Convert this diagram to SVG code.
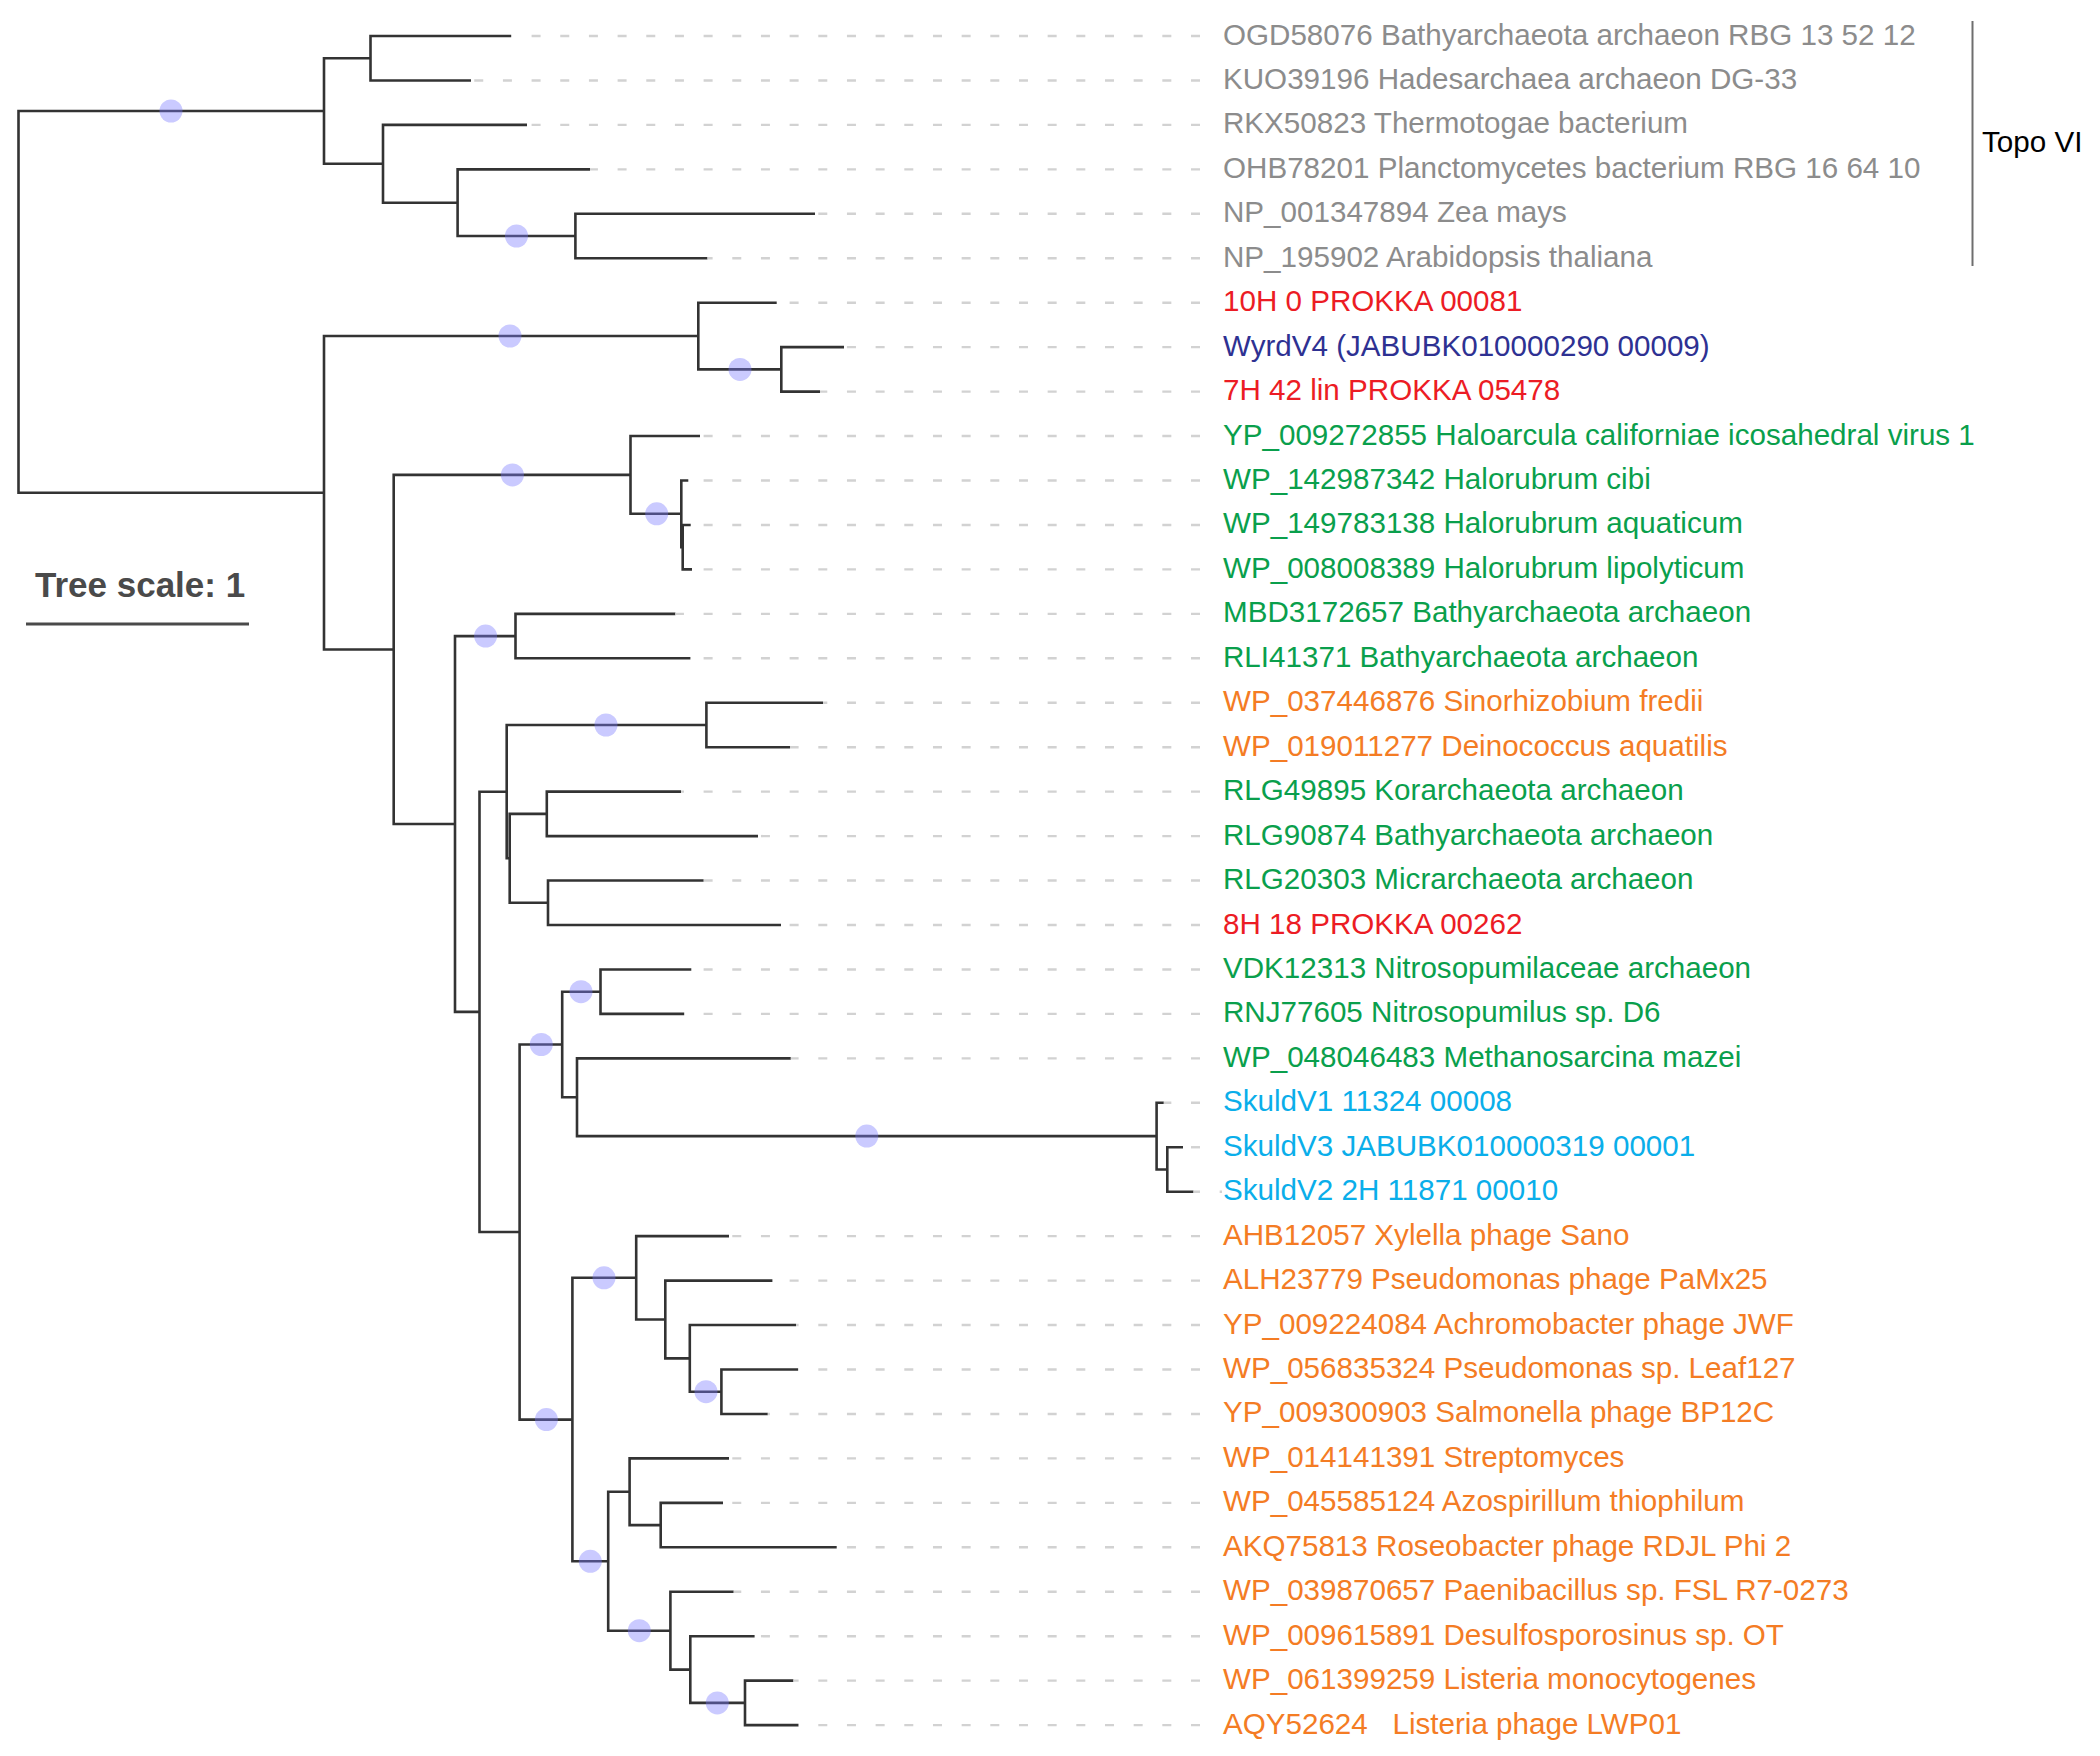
<svg xmlns="http://www.w3.org/2000/svg" width="2100" height="1756" viewBox="0 0 2100 1756">
<style>
.br{fill:none;stroke:#333;stroke-width:2.6;stroke-linejoin:miter;stroke-linecap:butt}
.ds{stroke:#d2d2d2;stroke-width:2.4;stroke-dasharray:9 19.67}
.sp{fill:#7b7bff;fill-opacity:0.4}
.lb{font-family:"Liberation Sans",Arial,sans-serif;font-size:29.6px;white-space:pre}
.gy{fill:#8c8c8c}.rd{fill:#ec1c24}.nv{fill:#2e3192}.gn{fill:#0a9f4c}.or{fill:#f47c24}.bl{fill:#0aaeea}
</style>
<rect width="2100" height="1756" fill="#fff"/>
<g id="connectors">
<g id="branches">
<path class="br" d="M324 111 H18.5 V492.8 H324"/>
<path class="br" d="M370.5 58.2 H324 V163.8 H383"/>
<path class="br" d="M511 36 H370.5 V80.45 H471"/>
<path class="br" d="M527 124.9 H383 V202.7 H457.6"/>
<path class="br" d="M590 169.35 H457.6 V236 H575.4"/>
<path class="br" d="M815 213.8 H575.4 V258.25 H707.5"/>
<path class="br" d="M698.3 336 H324 V649.5 H393.7"/>
<path class="br" d="M776.7 302.7 H698.3 V369.4 H781.3"/>
<path class="br" d="M844 347.15 H781.3 V391.6 H820"/>
<path class="br" d="M630.5 474.9 H393.7 V824 H455"/>
<path class="br" d="M700 436.05 H630.5 V513.8 H681.3"/>
<path class="br" d="M688.3 480.5 H681.3 V547.2 H682.7"/>
<path class="br" d="M690.7 524.95 H682.7 V569.4 H692"/>
<path class="br" d="M515.5 636.1 H455 V1011.9 H479.5"/>
<path class="br" d="M675.4 613.85 H515.5 V658.3 H690.4"/>
<path class="br" d="M506.7 791.7 H479.5 V1232 H519.6"/>
<path class="br" d="M706.4 725 H506.7 V858.3 H509.7"/>
<path class="br" d="M823 702.75 H706.4 V747.2 H790"/>
<path class="br" d="M546.8 813.9 H509.7 V902.8 H548"/>
<path class="br" d="M681 791.65 H546.8 V836.1 H758"/>
<path class="br" d="M703.7 880.55 H548 V925 H781"/>
<path class="br" d="M562.2 1044.5 H519.6 V1419.6 H572.4"/>
<path class="br" d="M600.5 991.7 H562.2 V1097.2 H577"/>
<path class="br" d="M691.3 969.45 H600.5 V1013.9 H684.2"/>
<path class="br" d="M790.8 1058.35 H577 V1136.1 H1156.6"/>
<path class="br" d="M1163.8 1102.8 H1156.6 V1169.5 H1167.3"/>
<path class="br" d="M1183 1147.25 H1167.3 V1191.7 H1193.5"/>
<path class="br" d="M636.2 1277.8 H572.4 V1561.3 H608.2"/>
<path class="br" d="M729 1236.15 H636.2 V1319.5 H665.3"/>
<path class="br" d="M772.4 1280.6 H665.3 V1358.4 H689.8"/>
<path class="br" d="M796 1325.05 H689.8 V1391.7 H721.4"/>
<path class="br" d="M798 1369.5 H721.4 V1413.95 H767.8"/>
<path class="br" d="M629.6 1491.8 H608.2 V1630.7 H670.4"/>
<path class="br" d="M729 1458.4 H629.6 V1525.1 H660.7"/>
<path class="br" d="M723 1502.85 H660.7 V1547.3 H836.7"/>
<path class="br" d="M733.7 1591.75 H670.4 V1669.6 H690.3"/>
<path class="br" d="M754.6 1636.2 H690.3 V1702.9 H745"/>
<path class="br" d="M793.4 1680.65 H745 V1725.1 H798.5"/>
</g>
<g id="leader-lines">
<line class="ds" x1="511" y1="36" x2="1201" y2="36" stroke-dashoffset="495.47"/>
<line class="ds" x1="471" y1="80.45" x2="1201" y2="80.45" stroke-dashoffset="455.47"/>
<line class="ds" x1="527" y1="124.9" x2="1201" y2="124.9" stroke-dashoffset="511.47"/>
<line class="ds" x1="590" y1="169.35" x2="1201" y2="169.35" stroke-dashoffset="574.47"/>
<line class="ds" x1="815" y1="213.8" x2="1201" y2="213.8" stroke-dashoffset="799.47"/>
<line class="ds" x1="707.5" y1="258.25" x2="1201" y2="258.25" stroke-dashoffset="691.97"/>
<line class="ds" x1="776.7" y1="302.7" x2="1201" y2="302.7" stroke-dashoffset="761.17"/>
<line class="ds" x1="844" y1="347.15" x2="1201" y2="347.15" stroke-dashoffset="828.47"/>
<line class="ds" x1="820" y1="391.6" x2="1201" y2="391.6" stroke-dashoffset="804.47"/>
<line class="ds" x1="700" y1="436.05" x2="1201" y2="436.05" stroke-dashoffset="684.47"/>
<line class="ds" x1="688.3" y1="480.5" x2="1201" y2="480.5" stroke-dashoffset="672.77"/>
<line class="ds" x1="690.7" y1="524.95" x2="1201" y2="524.95" stroke-dashoffset="675.17"/>
<line class="ds" x1="692" y1="569.4" x2="1201" y2="569.4" stroke-dashoffset="676.47"/>
<line class="ds" x1="675.4" y1="613.85" x2="1201" y2="613.85" stroke-dashoffset="659.87"/>
<line class="ds" x1="690.4" y1="658.3" x2="1201" y2="658.3" stroke-dashoffset="674.87"/>
<line class="ds" x1="823" y1="702.75" x2="1201" y2="702.75" stroke-dashoffset="807.47"/>
<line class="ds" x1="790" y1="747.2" x2="1201" y2="747.2" stroke-dashoffset="774.47"/>
<line class="ds" x1="681" y1="791.65" x2="1201" y2="791.65" stroke-dashoffset="665.47"/>
<line class="ds" x1="758" y1="836.1" x2="1201" y2="836.1" stroke-dashoffset="742.47"/>
<line class="ds" x1="703.7" y1="880.55" x2="1201" y2="880.55" stroke-dashoffset="688.17"/>
<line class="ds" x1="781" y1="925" x2="1201" y2="925" stroke-dashoffset="765.47"/>
<line class="ds" x1="691.3" y1="969.45" x2="1201" y2="969.45" stroke-dashoffset="675.77"/>
<line class="ds" x1="684.2" y1="1013.9" x2="1201" y2="1013.9" stroke-dashoffset="668.67"/>
<line class="ds" x1="790.8" y1="1058.35" x2="1201" y2="1058.35" stroke-dashoffset="775.27"/>
<line class="ds" x1="1163.8" y1="1102.8" x2="1201" y2="1102.8" stroke-dashoffset="1148.27"/>
<line class="ds" x1="1183" y1="1147.25" x2="1201" y2="1147.25" stroke-dashoffset="1167.47"/>
<line class="ds" x1="1193.5" y1="1191.7" x2="1222" y2="1191.7" stroke-dashoffset="1177.97"/>
<line class="ds" x1="729" y1="1236.15" x2="1201" y2="1236.15" stroke-dashoffset="713.47"/>
<line class="ds" x1="772.4" y1="1280.6" x2="1201" y2="1280.6" stroke-dashoffset="756.87"/>
<line class="ds" x1="796" y1="1325.05" x2="1201" y2="1325.05" stroke-dashoffset="780.47"/>
<line class="ds" x1="798" y1="1369.5" x2="1201" y2="1369.5" stroke-dashoffset="782.47"/>
<line class="ds" x1="767.8" y1="1413.95" x2="1201" y2="1413.95" stroke-dashoffset="752.27"/>
<line class="ds" x1="729" y1="1458.4" x2="1201" y2="1458.4" stroke-dashoffset="713.47"/>
<line class="ds" x1="723" y1="1502.85" x2="1201" y2="1502.85" stroke-dashoffset="707.47"/>
<line class="ds" x1="836.7" y1="1547.3" x2="1201" y2="1547.3" stroke-dashoffset="821.17"/>
<line class="ds" x1="733.7" y1="1591.75" x2="1201" y2="1591.75" stroke-dashoffset="718.17"/>
<line class="ds" x1="754.6" y1="1636.2" x2="1201" y2="1636.2" stroke-dashoffset="739.07"/>
<line class="ds" x1="793.4" y1="1680.65" x2="1201" y2="1680.65" stroke-dashoffset="777.87"/>
<line class="ds" x1="798.5" y1="1725.1" x2="1201" y2="1725.1" stroke-dashoffset="782.97"/>
</g>
</g>
<g id="support-markers">
<circle class="sp" cx="171" cy="111" r="11.5"/>
<circle class="sp" cx="516.5" cy="236" r="11.5"/>
<circle class="sp" cx="510" cy="336" r="11.5"/>
<circle class="sp" cx="740" cy="369.4" r="11.5"/>
<circle class="sp" cx="512.4" cy="474.9" r="11.5"/>
<circle class="sp" cx="656.7" cy="513.8" r="11.5"/>
<circle class="sp" cx="485.6" cy="636.1" r="11.5"/>
<circle class="sp" cx="606" cy="725" r="11.5"/>
<circle class="sp" cx="581" cy="991.7" r="11.5"/>
<circle class="sp" cx="541.3" cy="1044.5" r="11.5"/>
<circle class="sp" cx="866.8" cy="1136.1" r="11.5"/>
<circle class="sp" cx="604" cy="1277.8" r="11.5"/>
<circle class="sp" cx="706" cy="1391.7" r="11.5"/>
<circle class="sp" cx="546.4" cy="1419.6" r="11.5"/>
<circle class="sp" cx="590.3" cy="1561.3" r="11.5"/>
<circle class="sp" cx="639.3" cy="1630.7" r="11.5"/>
<circle class="sp" cx="717.3" cy="1702.9" r="11.5"/>
</g>
<g id="labels" transform="translate(0,-1.5)">
<g id="leaf-1"><text class="lb gy" x="1223" y="46">OGD58076 Bathyarchaeota archaeon RBG 13 52 12</text></g>
<g id="leaf-2"><text class="lb gy" x="1223" y="90.45">KUO39196 Hadesarchaea archaeon DG-33</text></g>
<g id="leaf-3"><text class="lb gy" x="1223" y="134.9">RKX50823 Thermotogae bacterium</text></g>
<g id="leaf-4"><text class="lb gy" x="1223" y="179.35">OHB78201 Planctomycetes bacterium RBG 16 64 10</text></g>
<g id="leaf-5"><text class="lb gy" x="1223" y="223.8">NP_001347894 Zea mays</text></g>
<g id="leaf-6"><text class="lb gy" x="1223" y="268.25">NP_195902 Arabidopsis thaliana</text></g>
<g id="leaf-7"><text class="lb rd" x="1223" y="312.7">10H 0 PROKKA 00081</text></g>
<g id="leaf-8"><text class="lb nv" x="1223" y="357.15">WyrdV4 (JABUBK010000290 00009)</text></g>
<g id="leaf-9"><text class="lb rd" x="1223" y="401.6">7H 42 lin PROKKA 05478</text></g>
<g id="leaf-10"><text class="lb gn" x="1223" y="446.05">YP_009272855 Haloarcula californiae icosahedral virus 1</text></g>
<g id="leaf-11"><text class="lb gn" x="1223" y="490.5">WP_142987342 Halorubrum cibi</text></g>
<g id="leaf-12"><text class="lb gn" x="1223" y="534.95">WP_149783138 Halorubrum aquaticum</text></g>
<g id="leaf-13"><text class="lb gn" x="1223" y="579.4">WP_008008389 Halorubrum lipolyticum</text></g>
<g id="leaf-14"><text class="lb gn" x="1223" y="623.85">MBD3172657 Bathyarchaeota archaeon</text></g>
<g id="leaf-15"><text class="lb gn" x="1223" y="668.3">RLI41371 Bathyarchaeota archaeon</text></g>
<g id="leaf-16"><text class="lb or" x="1223" y="712.75">WP_037446876 Sinorhizobium fredii</text></g>
<g id="leaf-17"><text class="lb or" x="1223" y="757.2">WP_019011277 Deinococcus aquatilis</text></g>
<g id="leaf-18"><text class="lb gn" x="1223" y="801.65">RLG49895 Korarchaeota archaeon</text></g>
<g id="leaf-19"><text class="lb gn" x="1223" y="846.1">RLG90874 Bathyarchaeota archaeon</text></g>
<g id="leaf-20"><text class="lb gn" x="1223" y="890.55">RLG20303 Micrarchaeota archaeon</text></g>
<g id="leaf-21"><text class="lb rd" x="1223" y="935">8H 18 PROKKA 00262</text></g>
<g id="leaf-22"><text class="lb gn" x="1223" y="979.45">VDK12313 Nitrosopumilaceae archaeon</text></g>
<g id="leaf-23"><text class="lb gn" x="1223" y="1023.9">RNJ77605 Nitrosopumilus sp. D6</text></g>
<g id="leaf-24"><text class="lb gn" x="1223" y="1068.35">WP_048046483 Methanosarcina mazei</text></g>
<g id="leaf-25"><text class="lb bl" x="1223" y="1112.8">SkuldV1 11324 00008</text></g>
<g id="leaf-26"><text class="lb bl" x="1223" y="1157.25">SkuldV3 JABUBK010000319 00001</text></g>
<g id="leaf-27"><text class="lb bl" x="1223" y="1201.7">SkuldV2 2H 11871 00010</text></g>
<g id="leaf-28"><text class="lb or" x="1223" y="1246.15">AHB12057 Xylella phage Sano</text></g>
<g id="leaf-29"><text class="lb or" x="1223" y="1290.6">ALH23779 Pseudomonas phage PaMx25</text></g>
<g id="leaf-30"><text class="lb or" x="1223" y="1335.05">YP_009224084 Achromobacter phage JWF</text></g>
<g id="leaf-31"><text class="lb or" x="1223" y="1379.5">WP_056835324 Pseudomonas sp. Leaf127</text></g>
<g id="leaf-32"><text class="lb or" x="1223" y="1423.95">YP_009300903 Salmonella phage BP12C</text></g>
<g id="leaf-33"><text class="lb or" x="1223" y="1468.4">WP_014141391 Streptomyces</text></g>
<g id="leaf-34"><text class="lb or" x="1223" y="1512.85">WP_045585124 Azospirillum thiophilum</text></g>
<g id="leaf-35"><text class="lb or" x="1223" y="1557.3">AKQ75813 Roseobacter phage RDJL Phi 2</text></g>
<g id="leaf-36"><text class="lb or" x="1223" y="1601.75">WP_039870657 Paenibacillus sp. FSL R7-0273</text></g>
<g id="leaf-37"><text class="lb or" x="1223" y="1646.2">WP_009615891 Desulfosporosinus sp. OT</text></g>
<g id="leaf-38"><text class="lb or" x="1223" y="1690.65">WP_061399259 Listeria monocytogenes</text></g>
<g id="leaf-39"><text class="lb or" x="1223" y="1735.1" xml:space="preserve">AQY52624   Listeria phage LWP01</text></g>
</g>
<g id="topo-vi">
<line x1="1972.5" y1="21" x2="1972.5" y2="266" stroke="#6e6e6e" stroke-width="2"/>
<text class="lb" x="1982" y="152" fill="#000">Topo VI</text>
</g>
<g id="tree-scale">
<text x="35" y="597" font-family="'Liberation Sans',Arial,sans-serif" font-size="35" font-weight="bold" fill="#4a4a4a">Tree scale: 1</text>
<line x1="26" y1="624" x2="249" y2="624" stroke="#4a4a4a" stroke-width="3"/>
</g>
</svg>
